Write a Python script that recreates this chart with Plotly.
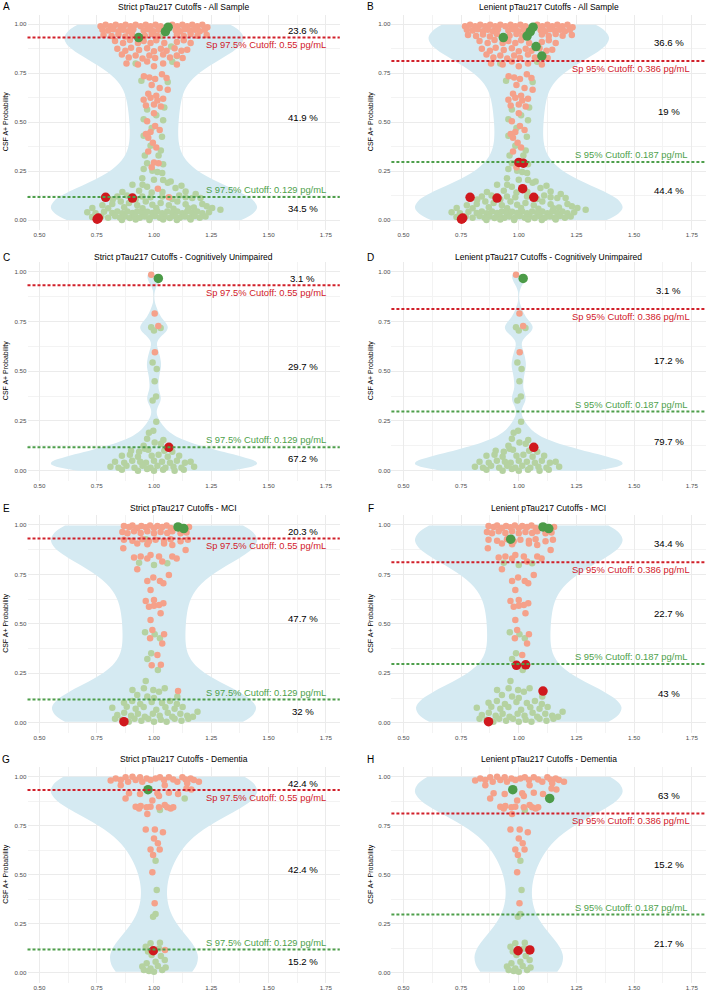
import numpy as np
import plotly.graph_objects as go
from plotly.subplots import make_subplots

# ---------------- data (x = jittered position, y = CSF A+ probability) ----------------
# All sample: CSF+ (salmon) and CSF- (green) points
all_pos = [
    (0.767, 0.990), (0.789, 0.997), (0.811, 0.990), (0.833, 0.997), (0.855, 0.990), (0.876, 0.997),
    (0.898, 0.990), (0.920, 0.997), (0.942, 0.990), (0.964, 0.997), (0.985, 0.990), (1.007, 0.997),
    (1.029, 0.990), (1.080, 0.997), (1.102, 0.990), (1.124, 0.997), (1.145, 0.990), (1.167, 0.997),
    (1.189, 0.990), (1.211, 0.997), (1.233, 0.985),
    (0.775, 0.972), (0.800, 0.968), (0.822, 0.975), (0.845, 0.965), (0.866, 0.972), (0.888, 0.965),
    (0.910, 0.975), (0.955, 0.968), (0.975, 0.975), (0.998, 0.965), (1.020, 0.972), (1.095, 0.970),
    (1.115, 0.965), (1.135, 0.975), (1.158, 0.967), (1.180, 0.972), (1.200, 0.965), (1.222, 0.972),
    (0.780, 0.945), (0.815, 0.940), (0.845, 0.948), (0.875, 0.938), (0.905, 0.950), (0.960, 0.942),
    (0.990, 0.950), (1.015, 0.940), (1.100, 0.948), (1.130, 0.940), (1.160, 0.950), (1.190, 0.942),
    (1.230, 0.945),
    (0.830, 0.915), (0.865, 0.905), (0.895, 0.920), (0.930, 0.905), (0.955, 0.915), (0.985, 0.905),
    (1.010, 0.918), (1.045, 0.905), (1.100, 0.910), (1.130, 0.918), (1.160, 0.905),
    (0.840, 0.875), (0.875, 0.865), (0.900, 0.880), (0.935, 0.868), (0.970, 0.878), (1.000, 0.862),
    (1.030, 0.875), (1.055, 0.865), (1.090, 0.878), (1.120, 0.865), (1.145, 0.870),
    (0.860, 0.845), (0.890, 0.830), (0.920, 0.840), (0.950, 0.825), (0.980, 0.840), (1.005, 0.828),
    (1.040, 0.845), (1.070, 0.830), (1.100, 0.840), (1.125, 0.828),
    (0.880, 0.800), (0.930, 0.795), (0.970, 0.810), (1.000, 0.785), (1.040, 0.800), (1.100, 0.795),
    (0.956, 0.735), (0.980, 0.728), (1.005, 0.720), (1.035, 0.745), (1.055, 0.725),
    (0.990, 0.690), (1.025, 0.675), (1.060, 0.665), (0.975, 0.645), (1.010, 0.635),
    (0.955, 0.615), (0.985, 0.625), (1.015, 0.610), (1.040, 0.620), (0.965, 0.585), (1.000, 0.590),
    (1.030, 0.580), (1.000, 0.545), (0.970, 0.505),
    (1.005, 0.480), (0.985, 0.450), (0.965, 0.440), (1.025, 0.460), (0.975, 0.420),
    (0.995, 0.395), (1.010, 0.370), (0.975, 0.350),
    (1.000, 0.294), (1.020, 0.290), (0.990, 0.270),
    (1.017, 0.160), (1.065, 0.116), (0.789, 0.116), (0.906, 0.112), (0.757, 0.010), (0.752, 0.004),
]
all_neg = [
    (0.933, 0.932), (1.036, 0.940), (1.050, 0.963), (1.062, 0.985), (1.075, 0.886), (1.100, 0.838),
    (0.920, 0.800), (1.080, 0.808),
    (0.945, 0.712), (1.060, 0.705), (0.970, 0.565), (1.045, 0.575), (0.955, 0.515), (1.040, 0.510),
    (1.010, 0.535), (0.990, 0.470), (1.035, 0.425), (0.955, 0.430), (0.985, 0.380), (1.030, 0.355),
    (0.960, 0.330), (1.020, 0.330), (0.970, 0.290), (1.040, 0.285), (0.955, 0.260), (1.015, 0.245),
    (0.993, 0.252), (1.036, 0.240), (0.949, 0.214), (1.000, 0.206), (1.040, 0.205),
    (0.906, 0.180), (0.970, 0.170), (1.060, 0.190), (1.073, 0.197), (1.094, 0.163), (1.138, 0.146),
    (0.862, 0.143), (0.935, 0.150), (0.990, 0.140), (1.037, 0.143), (1.182, 0.133), (0.950, 0.180),
    (1.120, 0.175),
    (0.840, 0.120), (0.882, 0.125), (0.949, 0.120), (0.985, 0.116), (1.036, 0.120), (1.110, 0.125),
    (1.138, 0.116), (1.167, 0.112), (1.203, 0.112), (0.820, 0.105), (0.920, 0.105), (1.080, 0.108),
    (0.731, 0.061), (0.775, 0.075), (0.818, 0.082), (0.855, 0.095), (0.891, 0.087), (0.927, 0.075),
    (0.964, 0.095), (0.993, 0.078), (1.029, 0.087), (1.065, 0.075), (1.102, 0.095), (1.138, 0.080),
    (1.174, 0.064), (1.211, 0.082), (1.254, 0.061), (1.290, 0.053), (0.800, 0.060), (0.870, 0.065),
    (0.950, 0.060), (1.010, 0.062), (1.085, 0.058), (1.150, 0.060), (1.230, 0.070),
    (0.709, 0.040), (0.745, 0.035), (0.782, 0.042), (0.818, 0.036), (0.840, 0.044), (0.862, 0.035),
    (0.884, 0.043), (0.906, 0.036), (0.927, 0.044), (0.949, 0.035), (0.971, 0.042), (0.993, 0.036),
    (1.015, 0.044), (1.036, 0.035), (1.058, 0.043), (1.080, 0.036), (1.102, 0.044), (1.124, 0.035),
    (1.145, 0.043), (1.167, 0.036), (1.189, 0.044), (1.211, 0.035), (1.240, 0.040),
    (0.730, 0.015), (0.770, 0.018), (0.800, 0.012), (0.830, 0.020), (0.852, 0.012), (0.873, 0.018),
    (0.895, 0.010), (0.917, 0.020), (0.938, 0.012), (0.960, 0.018), (0.982, 0.010), (1.004, 0.020),
    (1.026, 0.012), (1.047, 0.018), (1.069, 0.010), (1.091, 0.020), (1.113, 0.012), (1.135, 0.018),
    (1.156, 0.010), (1.178, 0.020), (1.200, 0.012), (1.225, 0.018),
    (0.860, 0.000), (0.920, 0.002), (0.980, 0.000), (1.040, 0.002), (1.100, 0.000), (1.160, 0.002),
]

# Cognitively unimpaired
cu_pos = [(0.988, 0.985), (1.003, 0.790), (1.019, 0.727), (1.004, 0.595), (1.065, 0.117)]
cu_neg = [
    (1.019, 0.966), (0.988, 0.720), (1.000, 0.704), (1.029, 0.717), (0.994, 0.543), (1.012, 0.511),
    (1.003, 0.449), (1.009, 0.372), (0.994, 0.352), (1.010, 0.246), (0.978, 0.191), (0.997, 0.201),
    (1.003, 0.141), (1.041, 0.154), (0.955, 0.125), (1.030, 0.135), (0.970, 0.160),
    (0.900, 0.100), (0.935, 0.095), (0.975, 0.105), (1.045, 0.100), (1.080, 0.095), (0.960, 0.110),
    (0.860, 0.075), (0.895, 0.080), (0.930, 0.070), (0.990, 0.075), (1.020, 0.080), (1.060, 0.070),
    (1.110, 0.075),
    (0.830, 0.045), (0.870, 0.040), (0.905, 0.050), (0.940, 0.045), (0.965, 0.040), (1.000, 0.050),
    (1.035, 0.045), (1.070, 0.040), (1.100, 0.050), (1.135, 0.040), (1.160, 0.045),
    (0.810, 0.020), (0.845, 0.015), (0.880, 0.025), (0.915, 0.015), (0.950, 0.025), (0.985, 0.015),
    (1.015, 0.025), (1.050, 0.015), (1.085, 0.020), (1.120, 0.015), (1.175, 0.020),
    (0.860, 0.005), (0.930, 0.000), (0.970, 0.008), (1.000, 0.000), (1.040, 0.005), (1.090, 0.000),
    (1.130, 0.005),
]

# MCI
mci_pos = [
    (0.869, 0.995), (0.891, 0.990), (0.906, 0.998), (0.927, 0.985), (0.945, 0.995), (0.964, 0.988),
    (0.983, 0.998), (1.000, 0.985), (1.015, 0.995), (1.036, 0.990), (1.055, 0.998), (1.073, 0.985),
    (1.153, 0.990),
    (0.862, 0.965), (0.884, 0.958), (0.913, 0.968), (0.942, 0.960), (0.971, 0.968), (1.000, 0.958),
    (1.029, 0.965), (1.058, 0.960), (1.080, 0.968), (1.116, 0.958), (1.142, 0.962),
    (0.869, 0.925), (0.906, 0.920), (0.949, 0.928), (0.978, 0.918), (1.007, 0.925), (1.044, 0.920),
    (1.073, 0.928), (1.116, 0.918), (1.148, 0.925),
    (0.866, 0.882), (0.927, 0.907), (0.971, 0.902), (1.044, 0.907), (1.080, 0.899), (1.138, 0.874),
    (0.913, 0.835), (0.942, 0.840), (0.971, 0.831), (0.985, 0.848), (1.022, 0.840), (1.036, 0.815),
    (1.080, 0.840), (1.099, 0.831), (0.927, 0.776),
    (0.997, 0.734), (0.971, 0.717), (1.026, 0.717), (1.041, 0.705), (1.065, 0.747),
    (0.985, 0.671), (0.964, 0.616), (1.000, 0.621), (0.978, 0.587), (1.000, 0.592), (1.022, 0.595),
    (1.041, 0.604), (1.029, 0.553), (0.985, 0.519),
    (1.044, 0.447), (0.983, 0.427), (1.036, 0.401), (0.993, 0.469),
    (1.015, 0.342), (0.990, 0.290), (1.030, 0.293),
    (1.105, 0.160), (0.869, 0.005),
]
mci_neg = [
    (1.105, 0.990), (1.130, 0.982), (0.965, 0.928),
    (0.935, 0.809), (1.000, 0.798), (1.058, 0.806),
    (0.961, 0.457), (1.003, 0.447), (1.026, 0.427),
    (0.988, 0.351), (0.971, 0.322), (1.017, 0.266),
    (0.964, 0.211), (0.956, 0.174), (1.047, 0.174), (0.997, 0.165), (1.022, 0.157), (0.906, 0.165),
    (0.927, 0.140), (0.971, 0.132), (1.102, 0.132), (1.000, 0.125),
    (0.869, 0.101), (0.905, 0.110), (0.940, 0.095), (0.990, 0.105), (1.035, 0.100), (1.070, 0.110),
    (1.100, 0.095),
    (0.818, 0.076), (0.881, 0.081), (0.920, 0.070), (0.955, 0.080), (1.010, 0.065), (1.050, 0.078),
    (1.090, 0.070), (1.125, 0.080),
    (0.840, 0.039), (0.870, 0.050), (0.900, 0.035), (0.930, 0.045), (0.960, 0.030), (0.995, 0.045),
    (1.025, 0.035), (1.060, 0.050), (1.080, 0.030), (1.115, 0.045), (1.145, 0.035), (1.190, 0.055),
    (1.170, 0.030),
    (0.860, 0.015), (0.890, 0.005), (0.915, 0.020), (0.945, 0.010), (0.975, 0.020), (1.000, 0.005),
    (1.030, 0.015), (1.055, 0.005), (1.090, 0.020), (1.120, 0.010), (1.150, 0.020), (0.830, 0.020),
]

# Dementia
dem_pos = [
    (0.811, 0.980), (0.833, 0.991), (0.855, 0.983), (0.855, 0.957), (0.876, 0.997), (0.887, 0.974),
    (0.906, 1.000), (0.920, 0.983), (0.939, 0.997), (0.949, 0.974), (0.968, 0.991), (0.985, 0.983),
    (1.007, 0.991), (1.026, 0.997), (1.044, 0.983), (1.047, 0.957), (1.065, 0.997), (1.084, 0.986),
    (1.102, 0.974), (1.124, 0.997), (1.138, 0.986), (1.145, 0.966), (1.160, 0.991), (1.174, 0.983),
    (1.196, 0.974), (1.142, 0.940), (1.163, 0.935),
    (0.891, 0.915), (0.939, 0.912), (1.015, 0.915), (1.065, 0.918), (1.105, 0.912), (0.876, 0.889),
    (0.993, 0.878), (1.022, 0.901),
    (0.920, 0.847), (0.935, 0.838), (0.942, 0.850), (0.968, 0.844), (0.985, 0.847), (1.022, 0.844),
    (1.047, 0.855), (1.058, 0.844), (1.073, 0.838), (1.084, 0.844), (0.971, 0.810),
    (0.964, 0.731), (1.004, 0.731), (1.039, 0.716),
    (1.000, 0.685), (1.017, 0.660), (1.025, 0.629), (0.985, 0.629), (0.996, 0.600),
    (0.993, 0.512), (1.003, 0.354),
    (0.997, 0.112), (1.048, 0.116),
]
dem_neg = [
    (0.974, 0.934), (1.134, 0.889), (1.026, 0.830),
    (1.007, 0.571), (1.012, 0.422), (1.007, 0.299), (0.996, 0.286),
    (0.985, 0.150), (1.026, 0.153), (0.964, 0.133), (1.022, 0.124), (0.974, 0.108),
    (0.990, 0.090), (1.030, 0.085), (1.047, 0.065), (1.007, 0.056), (0.968, 0.048),
    (0.949, 0.031), (1.017, 0.034), (1.051, 0.027), (0.985, 0.022), (1.036, 0.014),
    (0.956, 0.014), (0.978, 0.009), (1.000, 0.005),
]

# cutoffs on the probability scale
strict_cut = {"upper": 0.932, "lower": 0.118,
              "up_label": "Sp 97.5% Cutoff: 0.55 pg/mL", "lo_label": "S 97.5% Cutoff: 0.129 pg/mL"}
lenient_cut = {"upper": 0.812, "lower": 0.297,
               "up_label": "Sp 95% Cutoff: 0.386 pg/mL", "lo_label": "S 95% Cutoff: 0.187 pg/mL"}

panel_letters = ["A", "B", "C", "D", "E", "F", "G", "H"]
panel_titles = [
    "Strict pTau217 Cutoffs - All Sample", "Lenient pTau217 Cutoffs - All Sample",
    "Strict pTau217 Cutoffs - Cognitively Unimpaired", "Lenient pTau217 Cutoffs - Cognitively Unimpaired",
    "Strict pTau217 Cutoffs - MCI", "Lenient pTau217 Cutoffs - MCI",
    "Strict pTau217 Cutoffs - Dementia", "Lenient pTau217 Cutoffs - Dementia",
]
panel_pcts = [
    ["23.6 %", "41.9 %", "34.5 %"], ["36.6 %", "19 %", "44.4 %"],
    ["3.1 %", "29.7 %", "67.2 %"], ["3.1 %", "17.2 %", "79.7 %"],
    ["20.3 %", "47.7 %", "32 %"], ["34.4 %", "22.7 %", "43 %"],
    ["42.4 %", "42.4 %", "15.2 %"], ["63 %", "15.2 %", "21.7 %"],
]
# misclassified points drawn large (red = CSF+ below cutoff, green = CSF- above cutoff)
hl_red = [
    [(0.789, 0.116), (0.906, 0.112), (0.757, 0.010), (0.752, 0.004)],
    [(0.789, 0.116), (0.906, 0.112), (1.017, 0.160), (1.065, 0.116), (0.757, 0.010), (0.752, 0.004),
     (1.000, 0.294), (1.020, 0.290)],
    [(1.065, 0.117)], [(1.065, 0.117)],
    [(0.869, 0.005)], [(0.990, 0.290), (1.030, 0.293), (1.105, 0.160), (0.869, 0.005)],
    [(0.997, 0.112)], [(0.997, 0.112), (1.048, 0.116)],
]
hl_green = [
    [(0.933, 0.932), (1.050, 0.963), (1.062, 0.985)],
    [(0.933, 0.932), (1.036, 0.940), (1.050, 0.963), (1.062, 0.985), (1.075, 0.886), (1.100, 0.838)],
    [(1.019, 0.966)], [(1.019, 0.966)],
    [(1.105, 0.990), (1.130, 0.982)], [(1.105, 0.990), (1.130, 0.982), (0.965, 0.928)],
    [(0.974, 0.934)], [(0.974, 0.934), (1.134, 0.889)],
]
groups = [(all_pos, all_neg), (cu_pos, cu_neg), (mci_pos, mci_neg), (dem_pos, dem_neg)]

# ---------------- style ----------------
FONT = "Liberation Sans, Arial, Helvetica, sans-serif"
W, H = 709, 992
SALMON, LIGHTGREEN = "#F5A18A", "#B5D2A1"
DARKRED, DARKGREEN = "#D0191E", "#4C9B48"
LINE_RED, LINE_GREEN = "#D1202A", "#4E9F4B"
VIOLIN = "#D5EAF2"
BW_ADJUST = 0.85

col_dom = [(27.5, 339.8), (391.4, 705.9)]
row_dom = [(14.5, 229.8), (261.7, 480.6), (515.1, 732.6), (766.9, 982.5)]
title_px = [6.7, 257.3, 508.3, 759.3]
letter_px = [6.0, 370.7]
ytitle_px = [6.0, 371.0]

fig = make_subplots(rows=4, cols=2)

for i in range(8):
    r, c = i // 2, i % 2
    n = i + 1
    pos, neg = groups[r]
    cut = strict_cut if c == 0 else lenient_cut
    xr = "x" if n == 1 else f"x{n}"
    yr = "y" if n == 1 else f"y{n}"

    ys = np.array([p[1] for p in pos] + [p[1] for p in neg])
    q75, q25 = np.percentile(ys, [75, 25])
    bw = BW_ADJUST * 0.9 * min(ys.std(ddof=1), (q75 - q25) / 1.34) * len(ys) ** -0.2

    fig.add_trace(go.Violin(x0=1, y=ys, width=0.9, spanmode="hard", bandwidth=bw,
                            scalemode="width", fillcolor=VIOLIN, line=dict(color=VIOLIN, width=0),
                            points=False, hoverinfo="skip", opacity=1), row=r + 1, col=c + 1)
    fig.add_trace(go.Scatter(x=[p[0] for p in neg], y=[p[1] for p in neg], mode="markers",
                             marker=dict(size=6.5, color=LIGHTGREEN, line=dict(width=0))),
                  row=r + 1, col=c + 1)
    fig.add_trace(go.Scatter(x=[p[0] for p in pos], y=[p[1] for p in pos], mode="markers",
                             marker=dict(size=6.5, color=SALMON, line=dict(width=0))),
                  row=r + 1, col=c + 1)
    fig.add_trace(go.Scatter(x=[p[0] for p in hl_red[i]], y=[p[1] for p in hl_red[i]], mode="markers",
                             marker=dict(size=9.5, color=DARKRED, line=dict(width=0))),
                  row=r + 1, col=c + 1)
    fig.add_trace(go.Scatter(x=[p[0] for p in hl_green[i]], y=[p[1] for p in hl_green[i]], mode="markers",
                             marker=dict(size=9.5, color=DARKGREEN, line=dict(width=0))),
                  row=r + 1, col=c + 1)

    for yv, colr in [(cut["upper"], LINE_RED), (cut["lower"], LINE_GREEN)]:
        fig.add_shape(type="line", xref=f"{xr} domain", yref=yr, x0=0, x1=1, y0=yv, y1=yv,
                      line=dict(color=colr, width=2, dash="3px,2px"), layer="above")

    fig.add_annotation(x=1.487, y=cut["upper"] - 0.036, xref=xr, yref=yr, text=cut["up_label"],
                       showarrow=False, font=dict(family=FONT, size=9.4, color=LINE_RED))
    fig.add_annotation(x=1.487, y=cut["lower"] + 0.037, xref=xr, yref=yr, text=cut["lo_label"],
                       showarrow=False, font=dict(family=FONT, size=9.4, color=LINE_GREEN))

    mids = [(cut["upper"] + 1) / 2, (cut["upper"] + cut["lower"]) / 2, cut["lower"] / 2]
    for txt, yv in zip(panel_pcts[i], mids):
        fig.add_annotation(x=1.65, y=yv, xref=xr, yref=yr, text=txt, showarrow=False,
                           font=dict(family=FONT, size=9.6, color="black"))

    x0, x1 = col_dom[c]
    y0, y1 = row_dom[r]
    fig.add_annotation(x=(x0 + x1) / 2 / W, y=1 - title_px[r] / H, xref="paper", yref="paper",
                       text=panel_titles[i], showarrow=False, xanchor="center", yanchor="middle",
                       font=dict(family=FONT, size=8.5, color="black"))
    fig.add_annotation(x=letter_px[c] / W, y=1 - title_px[r] / H, xref="paper", yref="paper",
                       text=panel_letters[i], showarrow=False, xanchor="center", yanchor="middle",
                       font=dict(family=FONT, size=10, color="black"))
    fig.add_annotation(x=ytitle_px[c] / W, y=1 - (y0 + y1) / 2 / H, xref="paper", yref="paper",
                       text="CSF A+ Probability", textangle=-90, showarrow=False,
                       xanchor="center", yanchor="middle", font=dict(family=FONT, size=7, color="black"))

    xa = "xaxis" if n == 1 else f"xaxis{n}"
    ya = "yaxis" if n == 1 else f"yaxis{n}"
    fig.layout[xa].update(domain=[x0 / W, x1 / W], range=[0.448, 1.811],
                          tickvals=[0.5, 0.75, 1.0, 1.25, 1.5, 1.75], tickformat=".2f",
                          showgrid=True, gridcolor="#EBEBEB", gridwidth=1, zeroline=False,
                          showline=False, ticks="",
                          minor=dict(showgrid=True, tickvals=[0.625, 0.875, 1.125, 1.375, 1.625],
                                     gridcolor="#F3F3F3", gridwidth=0.6),
                          tickfont=dict(family=FONT, size=6.2, color="#4D4D4D"), automargin=False)
    fig.layout[ya].update(domain=[1 - y1 / H, 1 - y0 / H], range=[-0.05, 1.05],
                          tickvals=[0, 0.25, 0.5, 0.75, 1.0], tickformat=".2f",
                          showgrid=True, gridcolor="#EBEBEB", gridwidth=1, zeroline=False,
                          showline=False, ticks="",
                          minor=dict(showgrid=True, tickvals=[0.125, 0.375, 0.625, 0.875],
                                     gridcolor="#F3F3F3", gridwidth=0.6),
                          tickfont=dict(family=FONT, size=6.2, color="#4D4D4D"), automargin=False)

fig.update_layout(width=W, height=H, margin=dict(l=0, r=0, t=0, b=0), showlegend=False,
                  paper_bgcolor="white", plot_bgcolor="white", font=dict(family=FONT))

# the page body has a default 8px margin; drop it so the figure fills the window
fig.write_html("out.html", config={"displayModeBar": False},
               post_script="document.body.style.margin='0px';")
